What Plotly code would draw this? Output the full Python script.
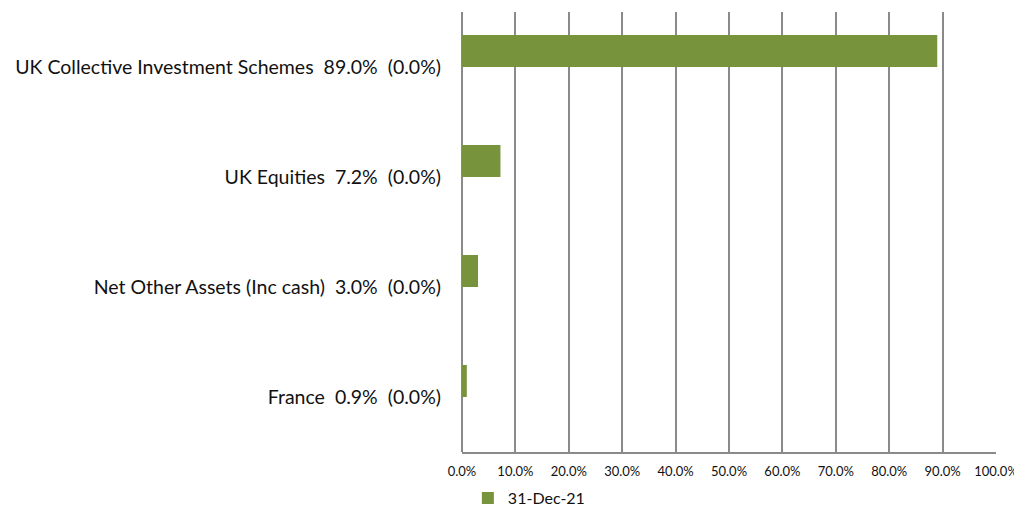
import plotly.graph_objects as go

GREEN = "#77933C"
GRID = "#8a8a8a"
TEXT = "#111111"

names = ["France", "Net Other Assets (Inc cash)", "UK Equities", "UK Collective Investment Schemes"]
values = [0.9, 3.0, 7.2, 89.0]
prior = [0.0, 0.0, 0.0, 0.0]
series_name = "31-Dec-21"

NB = "\u00a0"
labels = [f"{n}{NB}{NB}{v:.1f}%{NB}{NB}({p:.1f}%)" for n, v, p in zip(names, values, prior)]

fig = go.Figure()
# comparison period (all zero) sits below the current bar in each group
fig.add_trace(go.Bar(x=prior, y=labels, orientation="h", name="prior",
    marker=dict(color=GREEN, line=dict(width=0)), showlegend=False))
fig.add_trace(go.Bar(x=values, y=labels, orientation="h", name=series_name,
    marker=dict(color=GREEN, line=dict(width=0))))

# page body has an 8px margin, so the figure is offset by 8px
fig.update_layout(
    width=1014, height=499,
    paper_bgcolor="white", plot_bgcolor="white",
    font=dict(family="Lato, sans-serif", color=TEXT, size=19),
    margin=dict(l=454, r=26, t=4, b=55, autoexpand=False),
    barmode="group", bargap=0.418, bargroupgap=0,
    showlegend=True,
    legend=dict(orientation="h", x=0.011, xanchor="left", y=-0.105, yanchor="middle",
                font=dict(size=16), itemwidth=30),
    xaxis=dict(range=[0, 100], dtick=10, tickformat=".1f", ticksuffix="%",
               showgrid=True, gridcolor=GRID, gridwidth=1.5,
               zeroline=True, zerolinecolor=GRID, zerolinewidth=2,
               showline=True, linecolor=GRID, linewidth=2,
               ticks="", tickfont=dict(size=13), ticklabelstandoff=6,
               ticklabeloverflow="allow",
               automargin=False, fixedrange=True),
    yaxis=dict(showgrid=False, zeroline=False, showline=False, ticks="",
               ticklabelstandoff=20, tickfont=dict(size=19.5), automargin=False),
)

fig.write_html("out.html")
